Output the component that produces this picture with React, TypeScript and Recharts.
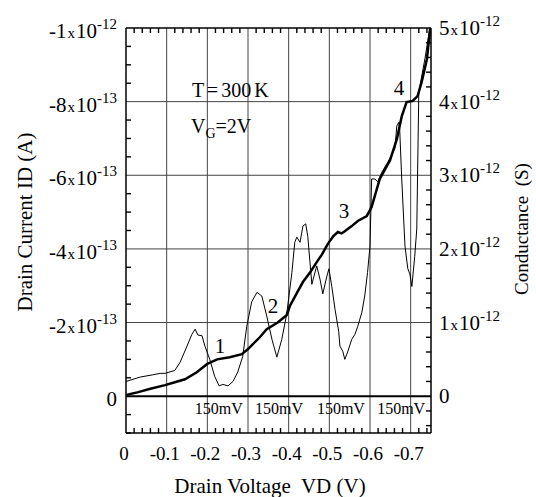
import React from 'react';
import { ComposedChart, Line, XAxis, YAxis, ReferenceLine } from 'recharts';

const FONT = '"Liberation Serif", "DejaVu Serif", serif';

// Drain current (units of -1e-13 A) vs drain voltage (units of -1 V)
const currentV = [0, 0.03, 0.06, 0.096, 0.12, 0.145, 0.174, 0.199, 0.224, 0.255, 0.285, 0.3, 0.329, 0.346, 0.373, 0.395, 0.403, 0.42, 0.435, 0.452, 0.469, 0.482, 0.496, 0.51, 0.521, 0.53, 0.538, 0.555, 0.57, 0.592, 0.604, 0.624, 0.649, 0.666, 0.678, 0.69, 0.705, 0.717, 0.727, 0.74, 0.75];
const currentI = [0.03, 0.11, 0.2, 0.3, 0.38, 0.46, 0.65, 0.87, 1.0, 1.06, 1.14, 1.28, 1.6, 1.82, 2.0, 2.2, 2.45, 2.8, 3.1, 3.35, 3.64, 3.85, 4.13, 4.35, 4.46, 4.42, 4.48, 4.62, 4.76, 4.89, 5.14, 5.9, 6.4, 6.98, 7.6, 7.99, 8.02, 8.15, 8.53, 9.16, 10.2];

// Conductance (units of 1e-12 S)
const condV = [0, 0.035, 0.066, 0.084, 0.096, 0.12, 0.133, 0.15, 0.162, 0.17, 0.177, 0.187, 0.194, 0.206, 0.218, 0.229, 0.238, 0.251, 0.263, 0.275, 0.287, 0.297, 0.309, 0.322, 0.334, 0.346, 0.359, 0.371, 0.383, 0.395, 0.408, 0.415, 0.42, 0.428, 0.435, 0.442, 0.447, 0.457, 0.469, 0.477, 0.484, 0.494, 0.499, 0.506, 0.514, 0.523, 0.526, 0.533, 0.538, 0.545, 0.555, 0.563, 0.57, 0.58, 0.587, 0.594, 0.6, 0.604, 0.612, 0.619, 0.629, 0.644, 0.661, 0.666, 0.671, 0.673, 0.678, 0.686, 0.693, 0.698, 0.703, 0.71, 0.715, 0.72, 0.735, 0.75];
const condG = [0.2, 0.26, 0.29, 0.31, 0.31, 0.35, 0.46, 0.68, 0.84, 0.91, 0.83, 0.82, 0.68, 0.5, 0.27, 0.14, 0.16, 0.14, 0.2, 0.33, 0.54, 0.95, 1.28, 1.41, 1.36, 1.09, 0.77, 0.53, 0.77, 1.11, 1.68, 2.09, 2.16, 2.09, 2.31, 2.34, 2.17, 1.52, 1.77, 1.59, 1.39, 1.63, 1.73, 1.49, 1.18, 0.88, 0.68, 0.61, 0.5, 0.6, 0.77, 0.84, 0.95, 1.14, 1.36, 1.68, 2.04, 2.95, 2.95, 2.91, 3.04, 3.18, 3.36, 3.67, 3.72, 3.63, 2.95, 2.04, 1.73, 1.66, 1.49, 1.9, 2.27, 4.13, 4.58, 5.1];

// Axes
const xMajor = [0, 0.1, 0.2, 0.3, 0.4, 0.5, 0.6, 0.7];
const xTickLabels = ['0', '-0.1', '-0.2', '-0.3', '-0.4', '-0.5', '-0.6', '-0.7'];
const xMinor = [0, 0.02, 0.04, 0.06, 0.08, 0.1, 0.12, 0.14, 0.16, 0.18, 0.2, 0.22, 0.24, 0.26, 0.28, 0.3, 0.32, 0.34, 0.36, 0.38, 0.4, 0.42, 0.44, 0.46, 0.48, 0.5, 0.52, 0.54, 0.56, 0.58, 0.6, 0.62, 0.64, 0.66, 0.68, 0.7, 0.72, 0.74];

const leftMajor = [0, 2, 4, 6, 8, 10];
const leftMant = ['0', '-2', '-4', '-6', '-8', '-1'];
const leftExp = ['', '-13', '-13', '-13', '-13', '-12'];
const leftMinor = [-1, -0.5, 0, 0.5, 1, 1.5, 2, 2.5, 3, 3.5, 4, 4.5, 5, 5.5, 6, 6.5, 7, 7.5, 8, 8.5, 9, 9.5, 10];

const rightMajor = [0, 1, 2, 3, 4, 5];
const rightMant = ['0', '1', '2', '3', '4', '5'];
const rightExp = ['', '-12', '-12', '-12', '-12', '-12'];
const rightMinor = [-0.4, -0.2, 0, 0.2, 0.4, 0.6, 0.8, 1, 1.2, 1.4, 1.6, 1.8, 2, 2.2, 2.4, 2.6, 2.8, 3, 3.2, 3.4, 3.6, 3.8, 4, 4.2, 4.4, 4.6, 4.8, 5];

const gridX = [0.1, 0.2, 0.3, 0.4, 0.5, 0.6, 0.7];
const gridY = [2, 4, 6, 8];

const periodX = [0.228, 0.376, 0.528, 0.676];
const periodLabel = '150mV';
const peakLabels = ['1', '2', '3', '4'];

const currentData = currentV.map((x, i) => ({ x, y: currentI[i] }));
const condData = condV.map((x, i) => ({ x, y: condG[i] }));

const near = (arr: number[], v: number) => arr.findIndex((m) => Math.abs(m - v) < 1e-6);

const TICK_W = 1.4;
const TICK_L = 5;

const Sci = ({ x, y, mant, exp, anchor }: any) => (
  <text x={x} y={y} textAnchor={anchor} fontFamily={FONT} fontSize={21} fill="#000">
    <tspan>{mant}</tspan>
    {exp ? <tspan fontSize={15} dx={1}>x</tspan> : null}
    {exp ? <tspan dx={1}>10</tspan> : null}
    {exp ? <tspan fontSize={15} dy={-9}>{exp}</tspan> : null}
  </text>
);

const BottomTick = (props: any) => {
  const { x, y, payload } = props;
  const idx = near(xMajor, payload.value);
  return (
    <g>
      {idx >= 0 ? (
        <text x={x - 2} y={y + 27} textAnchor="middle" fontFamily={FONT} fontSize={19} fill="#000">
          {xTickLabels[idx]}
        </text>
      ) : (
        <path d={`M${x},${y}V${y - TICK_L}`} stroke="#000" strokeWidth={TICK_W} fill="none" />
      )}
    </g>
  );
};

const TopTick = (props: any) => {
  const { x, y, payload } = props;
  const idx = near(xMajor, payload.value);
  return (
    <g>
      {idx < 0 ? <path d={`M${x},${y}V${y + TICK_L}`} stroke="#000" strokeWidth={TICK_W} fill="none" /> : null}
    </g>
  );
};

const LeftTick = (props: any) => {
  const { x, y, payload } = props;
  const idx = near(leftMajor, payload.value);
  return (
    <g>
      {idx >= 0 ? (
        <Sci x={x - 9} y={y + 10} mant={leftMant[idx]} exp={leftExp[idx]} anchor="end" />
      ) : (
        <path d={`M${x},${y}H${x + TICK_L}`} stroke="#000" strokeWidth={TICK_W} fill="none" />
      )}
    </g>
  );
};

const RightTick = (props: any) => {
  const { x, y, payload } = props;
  const idx = near(rightMajor, payload.value);
  return (
    <g>
      {idx >= 0 ? (
        <Sci x={x + 8} y={y + 7} mant={rightMant[idx]} exp={rightExp[idx]} anchor="start" />
      ) : (
        <path d={`M${x},${y}H${x - TICK_L}`} stroke="#000" strokeWidth={TICK_W} fill="none" />
      )}
    </g>
  );
};

const axisLine = { stroke: '#000', strokeWidth: 1.5 };

export default function App() {
  return (
    <div style={{ position: 'absolute', left: 0, top: 0, width: 536, height: 497, background: '#fff' }}>
      <ComposedChart width={536} height={497} margin={{ top: 27, right: 0, bottom: 0, left: 0 }}>
        <XAxis
          xAxisId={0}
          dataKey="x"
          type="number"
          domain={[0, 0.75]}
          allowDataOverflow
          ticks={xMinor}
          interval={0}
          tickSize={0}
          tickMargin={0}
          tickLine={false}
          axisLine={axisLine}
          tick={<BottomTick />}
          height={64}
        />
        <XAxis
          xAxisId="top"
          orientation="top"
          dataKey="x"
          type="number"
          domain={[0, 0.75]}
          allowDataOverflow
          ticks={xMinor}
          interval={0}
          tickSize={0}
          tickMargin={0}
          tickLine={false}
          axisLine={axisLine}
          tick={<TopTick />}
          height={1}
        />
        <YAxis
          yAxisId="L"
          type="number"
          domain={[-1, 10]}
          allowDataOverflow
          ticks={leftMinor}
          interval={0}
          tickSize={0}
          tickMargin={0}
          tickLine={false}
          axisLine={axisLine}
          tick={<LeftTick />}
          width={126}
        />
        <YAxis
          yAxisId="R"
          orientation="right"
          type="number"
          domain={[-0.5, 5]}
          allowDataOverflow
          ticks={rightMinor}
          interval={0}
          tickSize={0}
          tickMargin={0}
          tickLine={false}
          axisLine={axisLine}
          tick={<RightTick />}
          width={105}
        />
        {gridX.map((gx) => (
          <ReferenceLine key={'gx' + gx} x={gx} yAxisId="L" stroke="#444" strokeWidth={1} />
        ))}
        {gridY.map((gy) => (
          <ReferenceLine key={'gy' + gy} y={gy} yAxisId="L" stroke="#444" strokeWidth={1} />
        ))}
        <ReferenceLine y={0} yAxisId="L" stroke="#000" strokeWidth={2} />
        <Line
          data={condData}
          dataKey="y"
          yAxisId="R"
          type="linear"
          stroke="#000"
          strokeWidth={1}
          dot={false}
          isAnimationActive={false}
        />
        <Line
          data={currentData}
          dataKey="y"
          yAxisId="L"
          type="linear"
          stroke="#000"
          strokeWidth={2.5}
          dot={false}
          isAnimationActive={false}
        />
      </ComposedChart>
      <svg
        width={536}
        height={497}
        style={{ position: 'absolute', left: 0, top: 0, pointerEvents: 'none' }}
      >
        <g fontFamily={FONT} fill="#000">
          <text x={192} y={97} fontSize={20} wordSpacing={-2}>T = 300 K</text>
          <text x={191} y={133} fontSize={20}>
            <tspan>V</tspan>
            <tspan fontSize={14} dy={5}>G</tspan>
            <tspan dy={-5}>=2V</tspan>
          </text>
          {periodX.map((px, i) => (
            <text key={'p' + i} x={126 + px * 407} y={414} fontSize={16} textAnchor="middle">
              {periodLabel}
            </text>
          ))}
          <text x={220} y={353} fontSize={21} textAnchor="middle">{peakLabels[0]}</text>
          <text x={273} y={313} fontSize={21} textAnchor="middle">{peakLabels[1]}</text>
          <text x={344} y={218} fontSize={21} textAnchor="middle">{peakLabels[2]}</text>
          <text x={399} y={95} fontSize={21} textAnchor="middle">{peakLabels[3]}</text>
          <text x={270} y={493} fontSize={21} textAnchor="middle" style={{ whiteSpace: 'pre' }}>
            Drain Voltage  VD (V)
          </text>
          <text x={32} y={222} fontSize={21} textAnchor="middle" transform="rotate(-90 32 222)">
            Drain Current ID (A)
          </text>
          <text x={528} y={229} fontSize={19} textAnchor="middle" transform="rotate(-90 528 229)" style={{ whiteSpace: 'pre' }}>
            Conductance  (S)
          </text>
        </g>
      </svg>
    </div>
  );
}
